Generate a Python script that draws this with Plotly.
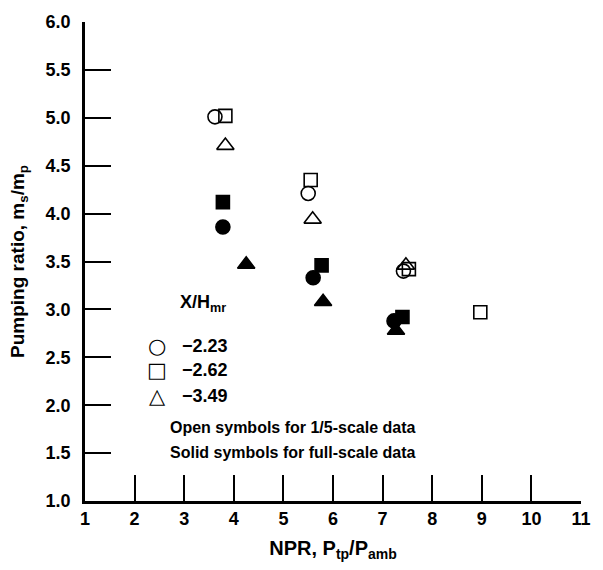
import plotly.graph_objects as go

# Open symbols: 1/5-scale data
open_circle_x = [3.62, 5.50, 7.42]
open_circle_y = [5.01, 4.21, 3.40]
open_square_x = [3.83, 5.55, 7.53, 8.97]
open_square_y = [5.02, 4.35, 3.42, 2.97]
open_tri_x = [3.83, 5.59, 7.47]
open_tri_y = [4.71, 3.94, 3.46]
# Solid symbols: full-scale data
solid_circle_x = [3.78, 5.60, 7.23]
solid_circle_y = [3.86, 3.33, 2.88]
solid_square_x = [3.78, 5.77, 7.40]
solid_square_y = [4.12, 3.46, 2.92]
solid_tri_x = [4.25, 5.80, 7.27]
solid_tri_y = [3.47, 3.08, 2.78]

x_ticks = list(range(1, 12))
y_ticks = [1.0, 1.5, 2.0, 2.5, 3.0, 3.5, 4.0, 4.5, 5.0, 5.5, 6.0]

legend_labels = ["\u22122.23", "\u22122.62", "\u22123.49"]
legend_glyphs = ["\u25CB", "\u25A1", "\u25B3"]

FONT = "Liberation Sans, Arial, Helvetica, sans-serif"

fig = go.Figure()
def add(x, y, symbol, size=13):
    fig.add_trace(go.Scatter(
        x=x, y=y, mode="markers", showlegend=False,
        marker=dict(symbol=symbol, size=size, color="black",
                    line=dict(color="black", width=1.6)),
    ))

add(open_circle_x, open_circle_y, "circle-open", 14)
add(open_square_x, open_square_y, "square-open", 13)
add(open_tri_x, open_tri_y, "triangle-up-open", 15)
add(solid_circle_x, solid_circle_y, "circle", 14)
add(solid_square_x, solid_square_y, "square", 13)
add(solid_tri_x, solid_tri_y, "triangle-up", 15)

ann = []
ann.append(dict(x=2.88, y=3.06, xref="x", yref="y", xanchor="left", yanchor="middle",
                text="<b>X/H<sub>mr</sub></b>", showarrow=False,
                font=dict(family=FONT, size=18, color="black")))
rows_y = [2.62, 2.37, 2.10]
for g, lab, yy in zip(legend_glyphs, legend_labels, rows_y):
    ann.append(dict(x=2.46, y=yy, xref="x", yref="y", xanchor="center", yanchor="middle",
                    text=g, showarrow=False,
                    font=dict(family="DejaVu Sans", size=21, color="black")))
    ann.append(dict(x=2.92, y=yy, xref="x", yref="y", xanchor="left", yanchor="middle",
                    text="<b>" + lab + "</b>", showarrow=False,
                    font=dict(family=FONT, size=18, color="black")))
ann.append(dict(x=2.68, y=1.77, xref="x", yref="y", xanchor="left", yanchor="middle",
                text="<b>Open symbols for 1/5-scale data</b>", showarrow=False,
                font=dict(family=FONT, size=16, color="black")))
ann.append(dict(x=2.68, y=1.505, xref="x", yref="y", xanchor="left", yanchor="middle",
                text="<b>Solid symbols for full-scale data</b>", showarrow=False,
                font=dict(family=FONT, size=16, color="black")))

fig.update_layout(
    width=603, height=570,
    margin=dict(l=85, r=18, t=16, b=69),
    paper_bgcolor="white", plot_bgcolor="white",
    font=dict(family=FONT, color="black"),
    annotations=ann,
    xaxis=dict(
        range=[1, 11], tickvals=x_ticks, ticktext=["<b>%d</b>" % v for v in x_ticks],
        ticks="inside", ticklen=26, tickwidth=2, tickcolor="black",
        showline=True, linecolor="black", linewidth=2.5, showgrid=False, zeroline=False,
        tickfont=dict(family=FONT, size=18, color="black"),
        title=dict(text="<b>NPR, P<sub>tp</sub>/P<sub>amb</sub></b>",
                   font=dict(family=FONT, size=20, color="black"), standoff=13),
    ),
    yaxis=dict(
        range=[1, 6], tickvals=y_ticks, ticktext=["<b>%.1f</b>" % v for v in y_ticks],
        ticks="inside", ticklen=26, tickwidth=2, tickcolor="black",
        showline=True, linecolor="black", linewidth=2.5, showgrid=False, zeroline=False,
        tickfont=dict(family=FONT, size=18, color="black"),
        ticklabelstandoff=8,
        title=dict(text="<b>Pumping ratio, m<sub>s</sub>/m<sub>p</sub></b>",
                   font=dict(family=FONT, size=19, color="black"), standoff=16),
    ),
)

fig.write_html("out.html")
